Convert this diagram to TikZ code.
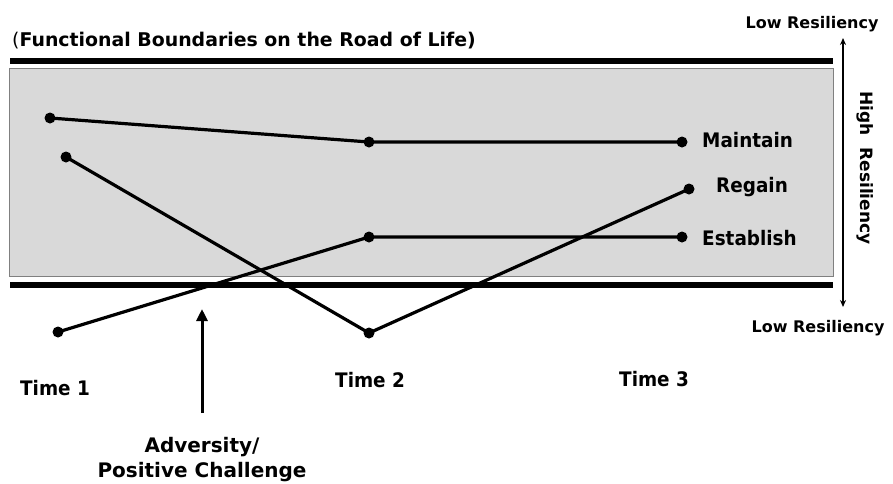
\documentclass[tikz,border=0pt]{standalone}
\usepackage{fontspec}
\setmainfont{DejaVu Sans}
\newfontfamily\narrowfont{DejaVu Sans}[FakeStretch=0.92]
\usetikzlibrary{arrows.meta}
\definecolor{roadgray}{HTML}{D9D9D9}
\definecolor{edgegray}{HTML}{808080}
\tikzset{
  dot/.style={circle,fill=black,inner sep=0pt,minimum size=11pt},
  conn/.style={line width=3.2pt,line join=round},
  bar/.style={line width=5.5pt},
  lbl/.style={inner sep=0pt,font=\narrowfont\bfseries\fontsize{20}{24}\selectfont},
  small/.style={inner sep=0pt,font=\bfseries\fontsize{16}{19}\selectfont},
}
\begin{document}
\begin{tikzpicture}[x=1pt,y=-1pt]
\useasboundingbox (0,0) rectangle (893,483);
% road
\fill[roadgray,draw=edgegray,line width=1pt] (9,68) rectangle (833,276);
\coordinate (bar1l) at (10,61); \coordinate (bar1r) at (833,61);
\coordinate (bar2l) at (10,285); \coordinate (bar2r) at (833,285);
\draw[bar] (bar1l) -- (bar1r);
\draw[bar] (bar2l) -- (bar2r);
% title
\node[inner sep=0pt,anchor=base west,font=\bfseries\fontsize{18.9}{22}\selectfont] (title) at (12,46) {{\mdseries(}Functional Boundaries on the Road of Life)};
% dots
\node[dot] (p1) at (50,118) {};
\node[dot] (p2) at (369,142) {};
\node[dot] (p3) at (682,142) {};
\node[dot] (q1) at (66,157) {};
\node[dot] (q2) at (369,333) {};
\node[dot] (q3) at (689,189) {};
\node[dot] (r1) at (58,332) {};
\node[dot] (r2) at (369,237) {};
\node[dot] (r3) at (682,237) {};
% paths
\draw[conn] (p1.center) -- (p2.center) -- (p3.center);
\draw[conn] (q1.center) -- (q2.center) -- (q3.center);
\draw[conn] (r1.center) -- (r2.center) -- (r3.center);
% outcome labels
\node[lbl,anchor=base west] (maintain) at (702,147) {Maintain};
\node[lbl,anchor=base west] (regain) at (716,192) {Regain};
\node[lbl,anchor=base west] (establish) at (702,245) {Establish};
% time labels
\node[lbl,anchor=base west] (t1) at (20,395) {Time 1};
\node[lbl,anchor=base west] (t2) at (335,387) {Time 2};
\node[lbl,anchor=base west] (t3) at (619,386) {Time 3};
% resiliency scale
\node[small,anchor=base] (lowtop) at (812,28) {Low Resiliency};
\node[small,anchor=base] (lowbot) at (818,332) {Low Resiliency};
\coordinate (scaletop) at (843,38);
\coordinate (scalebot) at (843,307);
\draw[line width=1.6pt,{Stealth[length=7pt,width=6pt]}-{Stealth[length=7pt,width=6pt]}] (scalebot) -- (scaletop);
\node[inner sep=0pt,rotate=-90,font=\bfseries\fontsize{17}{20}\selectfont] (high) at (865,168) {High\ \ Resiliency};
% adversity
\node[inner sep=0pt,anchor=base,font=\bfseries\fontsize{20}{24}\selectfont] (adv1) at (202,452) {Adversity/};
\node[inner sep=0pt,anchor=base,font=\bfseries\fontsize{20}{24}\selectfont] (adv2) at (202,477) {Positive Challenge};
\coordinate (advtail) at (202,413);
\coordinate (advtip) at (202,309);
\draw[line width=3pt,-{Triangle[length=12pt,width=11pt]}] (advtail) -- (advtip);
\end{tikzpicture}
\end{document}
